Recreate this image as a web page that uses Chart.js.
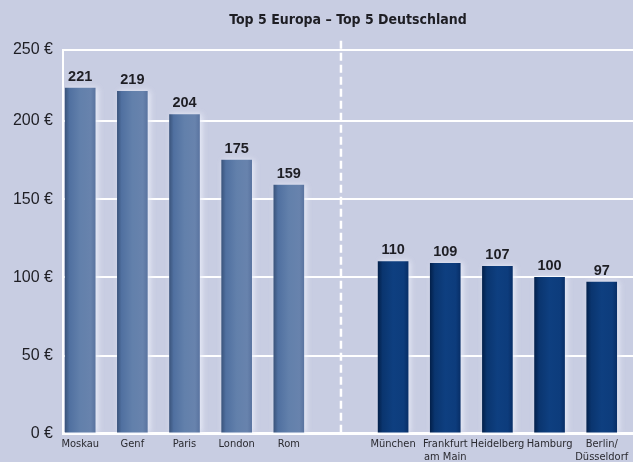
<!DOCTYPE html>
<html>
<head>
<meta charset="utf-8">
<script src="https://cdn.jsdelivr.net/npm/chart.js@4.4.0/dist/chart.umd.min.js"></script>
<style>
  html, body { margin: 0; padding: 0; background: #c8cde2; }
  #wrap { width: 633px; height: 462px; }
</style>
</head>
<body>
<div id="wrap"><canvas id="chart"></canvas></div>
<script>
// Data
const categories = ['Moskau', 'Genf', 'Paris', 'London', 'Rom', '',
  'München', ['Frankfurt', 'am Main'], 'Heidelberg', 'Hamburg', ['Berlin/', 'Düsseldorf']];
const europeValues = [221, 219, 204, 175, 159];
const germanyValues = [110, 109, 107, 100, 97];
const yTickValues = [0, 50, 100, 150, 200, 250];
const yTickLabels = ['0 €', '50 €', '100 €', '150 €', '200 €', '250 €'];
const chartTitle = 'Top 5 Europa – Top 5 Deutschland';

const TEXT_FONT = '"Liberation Sans Narrow", "DejaVu Sans Condensed", "Liberation Sans", sans-serif';
const NUM_FONT = '"Liberation Sans", Arial, sans-serif';

// slot positions on the x axis (1-based, middle slot left empty)
const europePoints = europeValues.map((v, i) => ({ x: i + 1, y: v }));
const germanyPoints = germanyValues.map((v, i) => ({ x: i + 7, y: v }));

function barGradient(context, stops) {
  const chart = context.chart;
  const raw = context.raw;
  const fallback = stops[2][1];
  if (!raw || !chart.scales.x) return fallback;
  const cx = chart.scales.x.getPixelForValue(raw.x);
  if (!isFinite(cx)) return fallback;
  const g = chart.ctx.createLinearGradient(cx - 15, 0, cx + 15, 0);
  stops.forEach(s => g.addColorStop(s[0], s[1]));
  return g;
}

const europeStops = [[0, '#3b557d'], [0.14, '#5070a0'], [0.5, '#6280ab'], [0.85, '#6883ad'], [1, '#5a74a0']];
const germanyStops = [[0, '#03214c'], [0.15, '#0a356f'], [0.5, '#0e3f80'], [0.85, '#0d3c7c'], [1, '#082f68']];

// divider, soft halo around bars, values on top
const barDecor = {
  id: 'barDecor',
  beforeDatasetsDraw(chart) {
    const ctx = chart.ctx;
    const x = chart.scales.x;
    const area = chart.chartArea;
    ctx.save();
    ctx.strokeStyle = '#ffffff';
    ctx.lineWidth = 2.5;
    ctx.setLineDash([8, 4]);
    ctx.beginPath();
    const dx = x.getPixelForValue(6);
    ctx.moveTo(dx, area.top - 9);
    ctx.lineTo(dx, area.bottom);
    ctx.stroke();
    ctx.restore();

    ctx.save();
    ctx.shadowColor = 'rgba(236, 239, 250, 0.9)';
    ctx.shadowBlur = 6;
    ctx.shadowOffsetX = 2;
  },
  afterDatasetsDraw(chart) {
    const ctx = chart.ctx;
    ctx.restore();
    ctx.save();
    ctx.fillStyle = '#1e1e24';
    ctx.font = 'bold 14.5px ' + NUM_FONT;
    ctx.textAlign = 'center';
    ctx.textBaseline = 'bottom';
    chart.data.datasets.forEach((ds, di) => {
      chart.getDatasetMeta(di).data.forEach((el, i) => {
        ctx.fillText(String(ds.data[i].y), el.x, el.y - 4);
      });
    });
    ctx.restore();
  }
};

const yMax = 245.5;

new Chart(document.getElementById('chart'), {
  type: 'bar',
  data: {
    datasets: [
      {
        label: 'Top 5 Europa',
        data: europePoints,
        backgroundColor: (c) => barGradient(c, europeStops)
      },
      {
        label: 'Top 5 Deutschland',
        data: germanyPoints,
        backgroundColor: (c) => barGradient(c, germanyStops)
      }
    ]
  },
  options: {
    responsive: true,
    maintainAspectRatio: false,
    animation: false,
    grouped: false,
    barThickness: 30,
    borderSkipped: false,
    layout: { padding: { left: 0, right: 0, top: 0, bottom: -5 } },
    plugins: {
      legend: { display: false },
      tooltip: { enabled: false },
      title: {
        display: true,
        text: chartTitle,
        fullSize: false,
        color: '#1e1e24',
        font: { family: TEXT_FONT, size: 14, weight: 'bold', lineHeight: 1.2 },
        padding: { top: 12, bottom: 21 }
      }
    },
    scales: {
      x: {
        type: 'linear',
        offset: false,
        min: 0.67,
        max: 11.6,
        grid: { display: false, drawTicks: false },
        border: { display: false },
        afterBuildTicks(scale) {
          scale.ticks = categories.map((c, i) => ({ value: i + 1 }));
        },
        ticks: {
          autoSkip: false,
          maxRotation: 0,
          padding: 4,
          color: '#2a2a30',
          font: { family: TEXT_FONT, size: 11, lineHeight: 1.15 },
          callback: (value) => categories[Math.round(value) - 1]
        }
      },
      y: {
        min: 0,
        max: yMax,
        afterFit(scale) { scale.width = 63; },
        afterBuildTicks(scale) {
          scale.ticks = yTickValues.map(v => ({ value: Math.min(v, scale.max) }));
        },
        grid: {
          color: '#ffffff',
          lineWidth: (c) => (c.tick && c.tick.value === 0 ? 3 : 2),
          drawTicks: false
        },
        border: { display: true, color: '#ffffff', width: 2 },
        ticks: {
          padding: 10,
          color: '#1e1e24',
          font: { family: NUM_FONT, size: 16 },
          callback: (value, index) => yTickLabels[index]
        }
      }
    }
  },
  plugins: [barDecor]
});
</script>
</body>
</html>
